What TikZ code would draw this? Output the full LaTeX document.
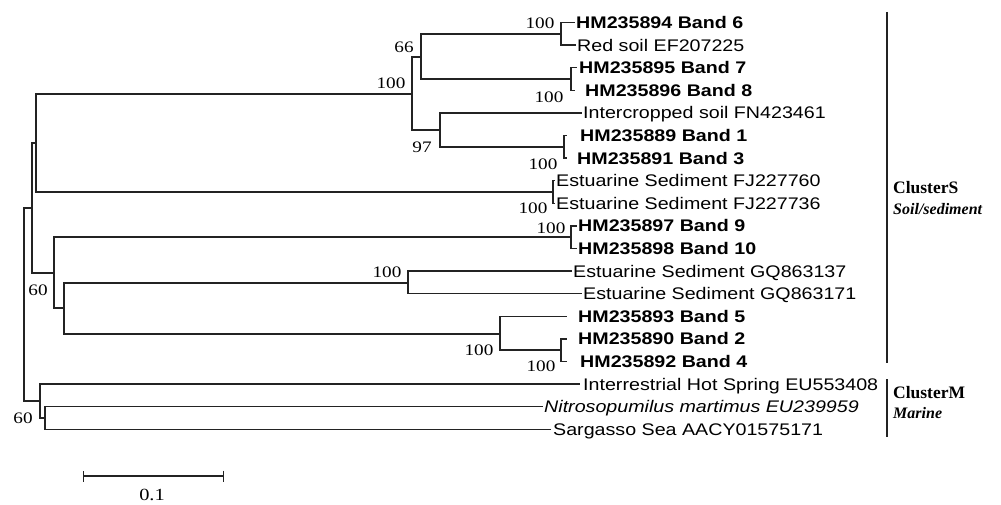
\documentclass[tikz,border=0pt]{standalone}
\usepackage{fontspec}
\usepackage{tikz}
\usetikzlibrary{positioning, arrows.meta}
\newfontfamily\leaffont[FakeStretch=1.17]{Liberation Sans}
\newfontfamily\bootfont[FakeStretch=1.2]{Liberation Serif}
\newfontfamily\clusterfont{Liberation Serif}
\definecolor{treegray}{RGB}{35, 35, 35}
\tikzset{
    branch/.style={draw, treegray, line width=1.3pt},
    leaf/.style={anchor=west, inner xsep=1pt, inner ysep=0pt, text height=12pt, text depth=0pt, font=\leaffont\fontsize{16.8}{18}\selectfont},
    band/.style={leaf, font=\leaffont\fontsize{16.8}{18}\selectfont\bfseries},
    boot/.style={inner sep=0pt, font=\bootfont\fontsize{16}{18}\selectfont},
    clusterbar/.style={draw, treegray, line width=2.4pt},
    clustername/.style={anchor=west, inner sep=0pt, font=\clusterfont\fontsize{17.5}{20}\selectfont\bfseries},
    clustersub/.style={inner sep=0pt, font=\clusterfont\fontsize{16}{18}\selectfont\bfseries\itshape}
}

\begin{document}
\begin{tikzpicture}[x=1pt, y=-1pt]
        \useasboundingbox (0,0) rectangle (1001,505);

        % Internal nodes of the tree
        \coordinate (root) at (24,304.5);
        \coordinate (nO) at (32,208);
        \coordinate (nH) at (36,143);
        \coordinate (nF) at (412,94);
        \coordinate (nC) at (421,57);
        \coordinate (nA) at (561,34);
        \coordinate (nB) at (571,79);
        \coordinate (nE) at (440,130);
        \coordinate (nD) at (564,147);
        \coordinate (nG) at (553,192);
        \coordinate (nN) at (54,273);
        \coordinate (nI) at (571,237);
        \coordinate (nM) at (64,308);
        \coordinate (nJ) at (408,283);
        \coordinate (nL) at (500,334);
        \coordinate (nK) at (561,350);
        \coordinate (nQ) at (40,401);
        \coordinate (nP) at (45,418);

        % Leaves
        \node[band] (b6) at (575,22.5) {HM235894 Band 6};
        \node[leaf] (rs) at (576,45.1) {Red soil EF207225};
        \node[band, inner xsep=2pt] (b7) at (577,67.7) {HM235895 Band 7};
        \node[band, inner xsep=10pt] (b8) at (575,90.3) {HM235896 Band 8};
        \node[leaf] (ic) at (582,112.9) {Intercropped soil FN423461};
        \node[band, inner xsep=13pt] (b1) at (567,135.5) {HM235889 Band 1};
        \node[band, inner xsep=10pt] (b3) at (567,158.1) {HM235891 Band 3};
        \node[leaf] (fja) at (555,180.7) {Estuarine Sediment FJ227760};
        \node[leaf] (fjb) at (555,203.3) {Estuarine Sediment FJ227736};
        \node[band] (b9) at (577,225.9) {HM235897 Band 9};
        \node[band] (b10) at (577,248.5) {HM235898 Band 10};
        \node[leaf] (gqa) at (572,271.1) {Estuarine Sediment GQ863137};
        \node[leaf] (gqb) at (582,293.7) {Estuarine Sediment GQ863171};
        \node[band, inner xsep=11pt] (b5) at (567,316.3) {HM235893 Band 5};
        \node[band, inner xsep=11pt] (b2) at (567,338.9) {HM235890 Band 2};
        \node[band, inner xsep=13pt] (b4) at (567,361.5) {HM235892 Band 4};
        \node[leaf, inner xsep=3pt] (hs) at (580,384.1) {Interrestrial Hot Spring EU553408};
        \node[leaf, font=\leaffont\fontsize{16.8}{18}\selectfont\itshape] (nm) at (543,406.7) {Nitrosopumilus martimus EU239959};
        \node[leaf, inner xsep=2pt] (sg) at (551,429.3) {Sargasso Sea AACY01575171};

        % Branches
        \foreach \p/\c in {root/nO, root/nQ, nO/nH, nO/nN, nH/nF, nH/nG, nF/nC, nF/nE,
                           nC/nA, nC/nB, nE/nD, nN/nI, nN/nM, nM/nJ, nM/nL, nL/nK, nQ/nP}
            \draw[branch] (\p) |- (\c);
        \foreach \p/\c in {nA/b6, nA/rs, nB/b7, nB/b8, nE/ic, nD/b1, nD/b3, nG/fja, nG/fjb,
                           nI/b9, nI/b10, nJ/gqa, nJ/gqb, nL/b5, nK/b2, nK/b4, nQ/hs, nP/nm, nP/sg}
            \draw[branch] (\p) |- (\c.west);

        % Bootstrap values
        \node[boot] (bF) at (391,83) {100};
        \node[boot] (bC) at (404,47) {66};
        \node[boot] (bE) at (422,147) {97};
        \node[boot] (bA) at (540,23) {100};
        \node[boot] (bB) at (549,97) {100};
        \node[boot] (bD) at (543,164) {100};
        \node[boot] (bG) at (533,208) {100};
        \node[boot] (bI) at (551,228) {100};
        \node[boot] (bJ) at (387,272) {100};
        \node[boot] (bN) at (38,290) {60};
        \node[boot] (bL) at (479,350) {100};
        \node[boot] (bK) at (541,366) {100};
        \node[boot] (bQ) at (23,418) {60};

        % Clusters
        \coordinate (sTop) at (887,12);
        \coordinate (sBot) at (887,363);
        \coordinate (mTop) at (887,379);
        \coordinate (mBot) at (887,437);
        \draw[clusterbar] (sTop) -- (sBot);
        \draw[clusterbar] (mTop) -- (mBot);
        \node[clustername] (cS) at (893,188) {ClusterS};
        \node[clustersub, below right=8.5pt and 0pt of cS.south west] (cSsub) {Soil/sediment};
        \node[clustername] (cM) at (893,393) {ClusterM};
        \node[clustersub, below right=8pt and 0pt of cM.south west] (cMsub) {Marine};

        % Scale bar
        \coordinate (s0) at (83,476);
        \coordinate (s1) at (224,476);
        \draw[branch, line width=1.2pt, {Bar[width=11pt]}-{Bar[width=11pt]}] (s0) -- (s1);
        \node[boot, font=\bootfont\fontsize{17}{19}\selectfont] (sc) at (152,495) {0.1};
    \end{tikzpicture}
\end{document}
